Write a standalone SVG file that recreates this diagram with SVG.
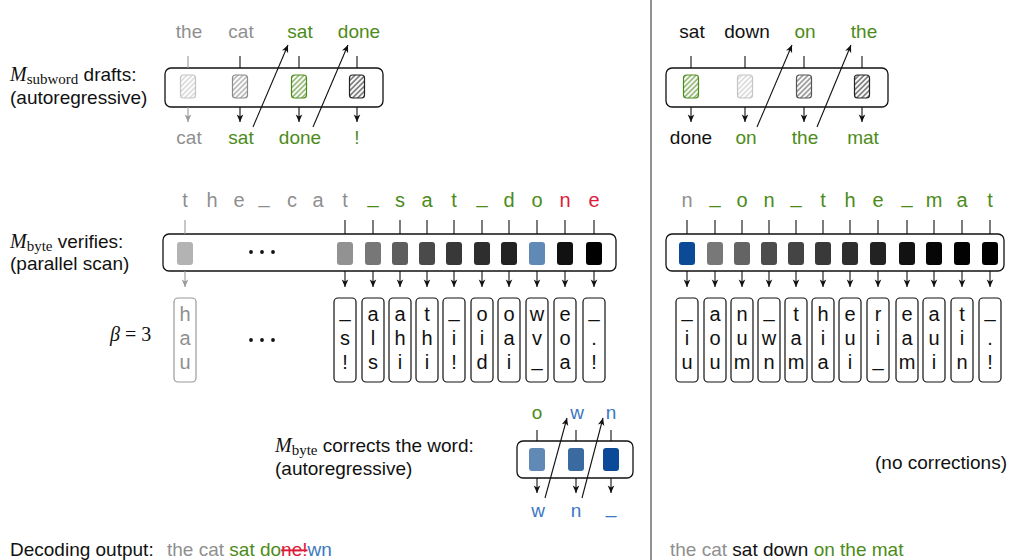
<svg xmlns="http://www.w3.org/2000/svg" width="1010" height="560" viewBox="0 0 1010 560">
<style>
.t{font-family:"Liberation Sans",Arial,sans-serif;font-size:19px;fill:#111}
.c{font-family:"Liberation Sans",Arial,sans-serif;font-size:19px;fill:#111;text-anchor:middle}
.k{font-size:20px}
.m{font-family:"Liberation Serif","Times New Roman",serif;font-style:italic;font-size:20px}
.sb{font-family:"Liberation Serif","Times New Roman",serif;font-size:15px}
.gy{fill:#8f8f8f}
.gn{fill:#4c8b1a}
.rd{fill:#dd1c3a}
.bl{fill:#3c78c2}
.bk{fill:#111}
.panel{fill:#fff;stroke:#111;stroke-width:1.3}
.cand{fill:#fff;stroke:#111;stroke-width:1.2}
.ln{stroke:#111;stroke-width:1.1;fill:none}
.lg{stroke:#999;stroke-width:1.1;fill:none}
.arr{marker-end:url(#ah)}
.arg{marker-end:url(#ahg)}
</style>
<defs>
<marker id="ah" viewBox="-8 -4 9 8" refX="0" refY="0" markerWidth="9" markerHeight="8" orient="auto" markerUnits="userSpaceOnUse"><path d="M0,0 L-7.5,-3.3 L-5.5,0 L-7.5,3.3 Z" fill="#111"/></marker>
<marker id="ahg" viewBox="-8 -4 9 8" refX="0" refY="0" markerWidth="9" markerHeight="8" orient="auto" markerUnits="userSpaceOnUse"><path d="M0,0 L-7.5,-3.3 L-5.5,0 L-7.5,3.3 Z" fill="#999"/></marker>
<pattern id="hA" width="3.6" height="3.6" patternUnits="userSpaceOnUse" patternTransform="rotate(45)"><line x1="1.8" y1="0" x2="1.8" y2="3.6" stroke="#c4c4c4" stroke-width="1"/></pattern>
<pattern id="hB" width="3.6" height="3.6" patternUnits="userSpaceOnUse" patternTransform="rotate(45)"><line x1="1.8" y1="0" x2="1.8" y2="3.6" stroke="#8a8a8a" stroke-width="1"/></pattern>
<pattern id="hG" width="3.6" height="3.6" patternUnits="userSpaceOnUse" patternTransform="rotate(45)"><line x1="1.8" y1="0" x2="1.8" y2="3.6" stroke="#4c8b1a" stroke-width="1"/></pattern>
<pattern id="hC" width="3.6" height="3.6" patternUnits="userSpaceOnUse" patternTransform="rotate(45)"><line x1="1.8" y1="0" x2="1.8" y2="3.6" stroke="#555" stroke-width="1"/></pattern>
<pattern id="hD" width="3.6" height="3.6" patternUnits="userSpaceOnUse" patternTransform="rotate(45)"><line x1="1.8" y1="0" x2="1.8" y2="3.6" stroke="#222" stroke-width="1"/></pattern>
</defs>
<rect width="1010" height="560" fill="#fff"/>

<line id="divider" x1="651" y1="0" x2="651" y2="560" stroke="#555" stroke-width="1.3"/>

<!-- side labels -->
<g id="label-drafts">
<text class="t" x="10" y="81"><tspan class="m">M</tspan><tspan class="sb" dy="3">subword</tspan><tspan dy="-3"> drafts:</tspan></text>
<text class="t" x="10" y="104">(autoregressive)</text>
</g>
<g id="label-verify">
<text class="t" x="10" y="248"><tspan class="m">M</tspan><tspan class="sb" dy="3">byte</tspan><tspan dy="-3"> verifies:</tspan></text>
<text class="t" x="10" y="270">(parallel scan)</text>
</g>
<g id="label-beta">
<text x="110" y="341" style="font-family:'Liberation Serif',serif;font-size:20px;fill:#111"><tspan font-style="italic">β</tspan> = 3</text>
</g>
<g id="label-correct">
<text class="t" x="275" y="452"><tspan class="m">M</tspan><tspan class="sb" dy="3">byte</tspan><tspan dy="-3"> corrects the word:</tspan></text>
<text class="t" x="275" y="475">(autoregressive)</text>
</g>
<g id="label-nocorr">
<text class="t" x="1007" y="469" text-anchor="end">(no corrections)</text>
</g>

<!-- draft panel left -->
<g id="draft-left">
<rect class="panel" x="165" y="68" width="218" height="39" rx="6"/>
<rect x="180.5" y="75" width="15" height="23" rx="3" fill="url(#hA)" stroke="#c4c4c4" stroke-width="1.2"/>
<rect x="232.5" y="75" width="15" height="23" rx="3" fill="url(#hB)" stroke="#8a8a8a" stroke-width="1.2"/>
<rect x="291.5" y="75" width="15" height="23" rx="3" fill="url(#hG)" stroke="#4c8b1a" stroke-width="1.2"/>
<rect x="349.5" y="75" width="15" height="23" rx="3" fill="url(#hD)" stroke="#222" stroke-width="1.2"/>
<text class="c gy" x="189" y="38">the</text>
<text class="c gy" x="241" y="38">cat</text>
<text class="c gn" x="300" y="38">sat</text>
<text class="c gn" x="359" y="38">done</text>
<text class="c gy" x="189" y="144">cat</text>
<text class="c gn" x="241" y="144">sat</text>
<text class="c gn" x="300" y="144">done</text>
<text class="c gn" x="357" y="144">!</text>
</g>

<!-- draft panel right -->
<g id="draft-right">
<rect class="panel" x="666" y="68" width="222" height="39" rx="6"/>
<rect x="683.5" y="75" width="15" height="23" rx="3" fill="url(#hG)" stroke="#4c8b1a" stroke-width="1.2"/>
<rect x="737.5" y="75" width="15" height="23" rx="3" fill="url(#hA)" stroke="#c4c4c4" stroke-width="1.2"/>
<rect x="796.5" y="75" width="15" height="23" rx="3" fill="url(#hC)" stroke="#555" stroke-width="1.2"/>
<rect x="854.5" y="75" width="15" height="23" rx="3" fill="url(#hD)" stroke="#222" stroke-width="1.2"/>
<text class="c bk" x="692" y="38">sat</text>
<text class="c bk" x="747" y="38">down</text>
<text class="c gn" x="805" y="38">on</text>
<text class="c gn" x="864" y="38">the</text>
<text class="c bk" x="691" y="144">done</text>
<text class="c gn" x="746" y="144">on</text>
<text class="c gn" x="805" y="144">the</text>
<text class="c gn" x="863" y="144">mat</text>
</g>

<!-- verify panel left -->
<g id="verify-left">
<rect class="panel" x="163" y="234" width="453" height="37" rx="6"/>
<rect x="177" y="242" width="16" height="23" rx="3" fill="#b3b3b3"/>
<circle cx="251" cy="252" r="1.9" fill="#111"/><circle cx="262" cy="252" r="1.9" fill="#111"/><circle cx="273" cy="252" r="1.9" fill="#111"/>
<rect x="337" y="242" width="16" height="23" rx="3" fill="#929292"/>
<rect x="365" y="242" width="16" height="23" rx="3" fill="#777"/>
<rect x="392" y="242" width="16" height="23" rx="3" fill="#5e5e5e"/>
<rect x="419" y="242" width="16" height="23" rx="3" fill="#4a4a4a"/>
<rect x="446" y="242" width="16" height="23" rx="3" fill="#383838"/>
<rect x="474" y="242" width="16" height="23" rx="3" fill="#2e2e2e"/>
<rect x="501" y="242" width="16" height="23" rx="3" fill="#222"/>
<rect x="529" y="242" width="16" height="23" rx="3" fill="#6089b5"/>
<rect x="557" y="242" width="16" height="23" rx="3" fill="#111"/>
<rect x="586" y="242" width="16" height="23" rx="3" fill="#000"/>
<text class="c k gy" x="185" y="207">t</text>
<text class="c k gy" x="212" y="207">h</text>
<text class="c k gy" x="239" y="207">e</text>
<text class="c k gy" x="264" y="203">_</text>
<text class="c k gy" x="292" y="207">c</text>
<text class="c k gy" x="318" y="207">a</text>
<text class="c k gy" x="345" y="207">t</text>
<text class="c k gn" x="373" y="203">_</text>
<text class="c k gn" x="400" y="207">s</text>
<text class="c k gn" x="427" y="207">a</text>
<text class="c k gn" x="454" y="207">t</text>
<text class="c k gn" x="482" y="203">_</text>
<text class="c k gn" x="509" y="207">d</text>
<text class="c k gn" x="537" y="207">o</text>
<text class="c k rd" x="565" y="207">n</text>
<text class="c k rd" x="594" y="207">e</text>
</g>

<!-- verify candidates left -->
<g id="cand-left">
<circle cx="251" cy="340" r="1.9" fill="#111"/><circle cx="262" cy="340" r="1.9" fill="#111"/><circle cx="273" cy="340" r="1.9" fill="#111"/>
<g id="cl0"><rect x="174" y="298" width="22" height="84" rx="4" fill="#fff" stroke="#999" stroke-width="1.2"/><text class="c k gy" x="185" y="321">h</text><text class="c k gy" x="185" y="345">a</text><text class="c k gy" x="185" y="369">u</text></g>
<g id="cl1"><rect class="cand" x="334" y="298" width="22" height="84" rx="4"/><text class="c k" x="345" y="317">_</text><text class="c k" x="345" y="345">s</text><text class="c k" x="345" y="369">!</text></g>
<g id="cl2"><rect class="cand" x="362" y="298" width="22" height="84" rx="4"/><text class="c k" x="373" y="321">a</text><text class="c k" x="373" y="345">l</text><text class="c k" x="373" y="369">s</text></g>
<g id="cl3"><rect class="cand" x="389" y="298" width="22" height="84" rx="4"/><text class="c k" x="400" y="321">a</text><text class="c k" x="400" y="345">h</text><text class="c k" x="400" y="369">i</text></g>
<g id="cl4"><rect class="cand" x="416" y="298" width="22" height="84" rx="4"/><text class="c k" x="427" y="321">t</text><text class="c k" x="427" y="345">h</text><text class="c k" x="427" y="369">i</text></g>
<g id="cl5"><rect class="cand" x="443" y="298" width="22" height="84" rx="4"/><text class="c k" x="454" y="317">_</text><text class="c k" x="454" y="345">i</text><text class="c k" x="454" y="369">!</text></g>
<g id="cl6"><rect class="cand" x="471" y="298" width="22" height="84" rx="4"/><text class="c k" x="482" y="321">o</text><text class="c k" x="482" y="345">i</text><text class="c k" x="482" y="369">d</text></g>
<g id="cl7"><rect class="cand" x="498" y="298" width="22" height="84" rx="4"/><text class="c k" x="509" y="321">o</text><text class="c k" x="509" y="345">a</text><text class="c k" x="509" y="369">i</text></g>
<g id="cl8"><rect class="cand" x="526" y="298" width="22" height="84" rx="4"/><text class="c k" x="537" y="321">w</text><text class="c k" x="537" y="345">v</text><text class="c k" x="537" y="366">_</text></g>
<g id="cl9"><rect class="cand" x="554" y="298" width="22" height="84" rx="4"/><text class="c k" x="565" y="321">e</text><text class="c k" x="565" y="345">o</text><text class="c k" x="565" y="369">a</text></g>
<g id="cl10"><rect class="cand" x="583" y="298" width="22" height="84" rx="4"/><text class="c k" x="594" y="317">_</text><text class="c k" x="594" y="345">.</text><text class="c k" x="594" y="369">!</text></g>
</g>

<!-- verify panel right -->
<g id="verify-right">
<rect class="panel" x="666" y="234" width="338" height="37" rx="6"/>
<rect x="679" y="242" width="16" height="23" rx="3" fill="#0b4a96"/>
<rect x="707" y="242" width="16" height="23" rx="3" fill="#787878"/>
<rect x="734" y="242" width="16" height="23" rx="3" fill="#646464"/>
<rect x="761" y="242" width="16" height="23" rx="3" fill="#4c4c4c"/>
<rect x="788" y="242" width="16" height="23" rx="3" fill="#444"/>
<rect x="815" y="242" width="16" height="23" rx="3" fill="#393939"/>
<rect x="842" y="242" width="16" height="23" rx="3" fill="#2e2e2e"/>
<rect x="870" y="242" width="16" height="23" rx="3" fill="#222"/>
<rect x="899" y="242" width="16" height="23" rx="3" fill="#121212"/>
<rect x="926" y="242" width="16" height="23" rx="3" fill="#060606"/>
<rect x="954" y="242" width="16" height="23" rx="3" fill="#020202"/>
<rect x="982" y="242" width="16" height="23" rx="3" fill="#000"/>
<text class="c k gy" x="687" y="207">n</text>
<text class="c k gn" x="715" y="203">_</text>
<text class="c k gn" x="742" y="207">o</text>
<text class="c k gn" x="769" y="207">n</text>
<text class="c k gn" x="796" y="203">_</text>
<text class="c k gn" x="823" y="207">t</text>
<text class="c k gn" x="850" y="207">h</text>
<text class="c k gn" x="878" y="207">e</text>
<text class="c k gn" x="907" y="203">_</text>
<text class="c k gn" x="934" y="207">m</text>
<text class="c k gn" x="962" y="207">a</text>
<text class="c k gn" x="990" y="207">t</text>
</g>

<!-- verify candidates right -->
<g id="cand-right">
<g id="cr1"><rect class="cand" x="676" y="298" width="22" height="84" rx="4"/><text class="c k" x="687" y="317">_</text><text class="c k" x="687" y="345">i</text><text class="c k" x="687" y="369">u</text></g>
<g id="cr2"><rect class="cand" x="704" y="298" width="22" height="84" rx="4"/><text class="c k" x="715" y="321">a</text><text class="c k" x="715" y="345">o</text><text class="c k" x="715" y="369">u</text></g>
<g id="cr3"><rect class="cand" x="731" y="298" width="22" height="84" rx="4"/><text class="c k" x="742" y="321">n</text><text class="c k" x="742" y="345">u</text><text class="c k" x="742" y="369">m</text></g>
<g id="cr4"><rect class="cand" x="758" y="298" width="22" height="84" rx="4"/><text class="c k" x="769" y="317">_</text><text class="c k" x="769" y="345">w</text><text class="c k" x="769" y="369">n</text></g>
<g id="cr5"><rect class="cand" x="785" y="298" width="22" height="84" rx="4"/><text class="c k" x="796" y="321">t</text><text class="c k" x="796" y="345">a</text><text class="c k" x="796" y="369">m</text></g>
<g id="cr6"><rect class="cand" x="812" y="298" width="22" height="84" rx="4"/><text class="c k" x="823" y="321">h</text><text class="c k" x="823" y="345">i</text><text class="c k" x="823" y="369">a</text></g>
<g id="cr7"><rect class="cand" x="839" y="298" width="22" height="84" rx="4"/><text class="c k" x="850" y="321">e</text><text class="c k" x="850" y="345">u</text><text class="c k" x="850" y="369">i</text></g>
<g id="cr8"><rect class="cand" x="867" y="298" width="22" height="84" rx="4"/><text class="c k" x="878" y="321">r</text><text class="c k" x="878" y="345">i</text><text class="c k" x="878" y="366">_</text></g>
<g id="cr9"><rect class="cand" x="896" y="298" width="22" height="84" rx="4"/><text class="c k" x="907" y="321">e</text><text class="c k" x="907" y="345">a</text><text class="c k" x="907" y="369">m</text></g>
<g id="cr10"><rect class="cand" x="923" y="298" width="22" height="84" rx="4"/><text class="c k" x="934" y="321">a</text><text class="c k" x="934" y="345">u</text><text class="c k" x="934" y="369">i</text></g>
<g id="cr11"><rect class="cand" x="951" y="298" width="22" height="84" rx="4"/><text class="c k" x="962" y="321">t</text><text class="c k" x="962" y="345">i</text><text class="c k" x="962" y="369">n</text></g>
<g id="cr12"><rect class="cand" x="979" y="298" width="22" height="84" rx="4"/><text class="c k" x="990" y="317">_</text><text class="c k" x="990" y="345">.</text><text class="c k" x="990" y="369">!</text></g>
</g>

<!-- correction panel -->
<g id="correct">
<rect class="panel" x="517" y="441" width="116" height="37" rx="6"/>
<rect x="529" y="448" width="16" height="23" rx="3" fill="#6089b5"/>
<rect x="568" y="448" width="16" height="23" rx="3" fill="#3a6aa0"/>
<rect x="603" y="448" width="16" height="23" rx="3" fill="#0b4a96"/>
<text class="c gn" x="537" y="419">o</text>
<text class="c bl" x="577" y="419">w</text>
<text class="c bl" x="611" y="419">n</text>
<text class="c bl" x="538" y="517">w</text>
<text class="c bl" x="576" y="517">n</text>
<text class="c bl" x="611" y="513">_</text>
</g>

<!-- decoding outputs -->
<g id="output-left">
<text class="t" x="10" y="556">Decoding output:</text>
<text class="t" x="167" y="556"><tspan class="gy">the cat </tspan><tspan class="gn">sat do</tspan><tspan class="rd" text-decoration="line-through">ne!</tspan><tspan class="bl">wn</tspan></text>
</g>
<g id="output-right">
<text class="t" x="670" y="556"><tspan class="gy">the cat </tspan><tspan class="bk">sat down </tspan><tspan class="gn">on the mat</tspan></text>
</g>

<!-- connectors -->
<g id="connectors">
<line class="lg" x1="188" y1="56" x2="188" y2="68"/>
<line class="ln" x1="240" y1="56" x2="240" y2="68"/>
<line class="ln" x1="299" y1="56" x2="299" y2="68"/>
<line class="ln" x1="357" y1="56" x2="357" y2="68"/>
<line class="lg arg" x1="188" y1="107" x2="188" y2="122"/>
<line class="ln arr" x1="240" y1="107" x2="240" y2="122"/>
<line class="ln arr" x1="299" y1="107" x2="299" y2="122"/>
<line class="ln arr" x1="357" y1="107" x2="357" y2="122"/>
<line class="ln arr" x1="253" y1="127" x2="288" y2="45"/>
<line class="ln arr" x1="313" y1="127" x2="348" y2="45"/>
<line class="ln" x1="691" y1="56" x2="691" y2="68"/>
<line class="ln" x1="745" y1="56" x2="745" y2="68"/>
<line class="ln" x1="804" y1="56" x2="804" y2="68"/>
<line class="ln" x1="862" y1="56" x2="862" y2="68"/>
<line class="ln arr" x1="691" y1="107" x2="691" y2="122"/>
<line class="ln arr" x1="745" y1="107" x2="745" y2="122"/>
<line class="ln arr" x1="804" y1="107" x2="804" y2="122"/>
<line class="ln arr" x1="862" y1="107" x2="862" y2="122"/>
<line class="ln arr" x1="757" y1="127" x2="792" y2="45"/>
<line class="ln arr" x1="817" y1="127" x2="851" y2="45"/>
<line class="lg" x1="185" y1="220" x2="185" y2="234"/>
<line class="lg arg" x1="185" y1="271" x2="185" y2="287"/>
<path class="ln" d="M345,220V234M373,220V234M400,220V234M427,220V234M454,220V234M482,220V234M509,220V234M537,220V234M565,220V234M594,220V234"/>
<line class="ln arr" x1="345" y1="271" x2="345" y2="287"/>
<line class="ln arr" x1="373" y1="271" x2="373" y2="287"/>
<line class="ln arr" x1="400" y1="271" x2="400" y2="287"/>
<line class="ln arr" x1="427" y1="271" x2="427" y2="287"/>
<line class="ln arr" x1="454" y1="271" x2="454" y2="287"/>
<line class="ln arr" x1="482" y1="271" x2="482" y2="287"/>
<line class="ln arr" x1="509" y1="271" x2="509" y2="287"/>
<line class="ln arr" x1="537" y1="271" x2="537" y2="287"/>
<line class="ln arr" x1="565" y1="271" x2="565" y2="287"/>
<line class="ln arr" x1="594" y1="271" x2="594" y2="287"/>
<path class="ln" d="M687,220V234M715,220V234M742,220V234M769,220V234M796,220V234M823,220V234M850,220V234M878,220V234M907,220V234M934,220V234M962,220V234M990,220V234"/>
<line class="ln arr" x1="687" y1="271" x2="687" y2="287"/>
<line class="ln arr" x1="715" y1="271" x2="715" y2="287"/>
<line class="ln arr" x1="742" y1="271" x2="742" y2="287"/>
<line class="ln arr" x1="769" y1="271" x2="769" y2="287"/>
<line class="ln arr" x1="796" y1="271" x2="796" y2="287"/>
<line class="ln arr" x1="823" y1="271" x2="823" y2="287"/>
<line class="ln arr" x1="850" y1="271" x2="850" y2="287"/>
<line class="ln arr" x1="878" y1="271" x2="878" y2="287"/>
<line class="ln arr" x1="907" y1="271" x2="907" y2="287"/>
<line class="ln arr" x1="934" y1="271" x2="934" y2="287"/>
<line class="ln arr" x1="962" y1="271" x2="962" y2="287"/>
<line class="ln arr" x1="990" y1="271" x2="990" y2="287"/>
<path class="ln" d="M537,430V441M576,430V441M611,430V441"/>
<line class="ln arr" x1="537" y1="478" x2="537" y2="493"/>
<line class="ln arr" x1="576" y1="478" x2="576" y2="493"/>
<line class="ln arr" x1="611" y1="478" x2="611" y2="493"/>
<line class="ln arr" x1="545" y1="498" x2="567" y2="418"/>
<line class="ln arr" x1="582" y1="498" x2="603" y2="418"/>
</g>
</svg>
